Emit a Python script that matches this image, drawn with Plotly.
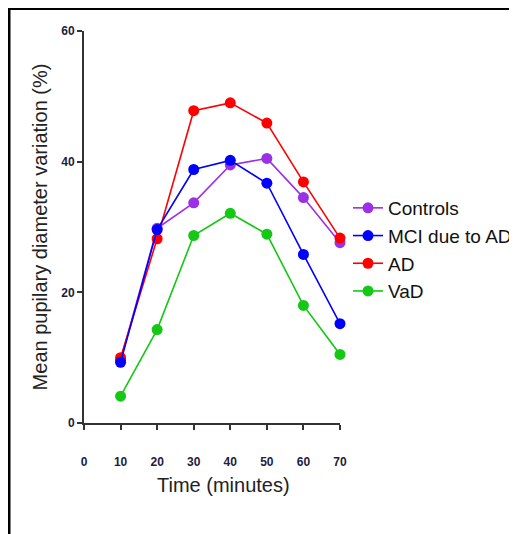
import plotly.graph_objects as go

time_min = [10, 20, 30, 40, 50, 60, 70]
controls = [9.6, 29.8, 33.7, 39.5, 40.5, 34.5, 27.6]
mci_due_to_ad = [9.3, 29.6, 38.8, 40.2, 36.7, 25.8, 15.2]
ad = [10.0, 28.2, 47.8, 49.0, 45.9, 36.9, 28.3]
vad = [4.1, 14.3, 28.7, 32.1, 28.9, 18.0, 10.5]

x_ticks = [0, 10, 20, 30, 40, 50, 60, 70]
y_ticks = [0, 20, 40, 60]

# page body has an 8px margin, so the figure sits at (8, 8)
W, H = 509, 526
ML, MR, MT, MB = 76, 177, 23, 111

series = [
    ("Controls", controls, "#9b30e6", 1),
    ("AD", ad, "#ff0000", 3),
    ("MCI due to AD", mci_due_to_ad, "#0000ff", 2),
    ("VaD", vad, "#14c814", 4),
]

fig = go.Figure()
for name, vals, color, rank in series:
    fig.add_trace(go.Scatter(
        x=time_min, y=vals, name=name, mode="lines+markers",
        line=dict(color=color, width=1.6),
        marker=dict(color=color, size=11, symbol="circle"),
        cliponaxis=False, legendrank=rank,
    ))

tick_font = dict(family="Liberation Sans, Arial, sans-serif", size=12, color="#1c1c40", weight="bold")

def px_x(p):
    return (p - ML) / (W - ML - MR)

def px_y(p):
    return (H - MB - p) / (H - MT - MB)

fig.update_layout(
    width=W, height=H,
    margin=dict(l=ML, r=MR, t=MT, b=MB, autoexpand=False),
    paper_bgcolor="white", plot_bgcolor="white",
    font=dict(family="Liberation Sans, Arial, sans-serif", color="#222222"),
    showlegend=True,
    legend=dict(
        x=px_x(340), y=px_y(181), xanchor="left", yanchor="top",
        font=dict(size=19, color="#111111"),
        bgcolor="rgba(0,0,0,0)", borderwidth=0,
        itemwidth=30, tracegroupgap=0,
    ),
    xaxis=dict(
        range=[0, 70], tickvals=x_ticks, ticktext=[str(v) for v in x_ticks],
        showgrid=False, zeroline=False, showline=True, linecolor="#333333", linewidth=2,
        ticks="outside", ticklen=5, tickwidth=1.5, tickcolor="#333333",
        tickfont=tick_font, ticklabelstandoff=22,
    ),
    yaxis=dict(
        range=[0, 60], tickvals=y_ticks,
        showgrid=False, zeroline=False, showline=True, linecolor="#333333", linewidth=2,
        ticks="outside", ticklen=5, tickwidth=1.5, tickcolor="#333333",
        tickfont=tick_font,
        title=dict(text="Mean pupilary diameter variation (%)", font=dict(size=20, color="#222222"), standoff=8),
    ),
)

fig.add_annotation(
    text="Time (minutes)", xref="paper", yref="paper",
    x=px_x(215), y=px_y(477), xanchor="center", yanchor="middle",
    showarrow=False, font=dict(size=20, color="#222222"),
)

# decorative frame (top and left edges of the figure)
fig.add_shape(type="line", xref="paper", yref="paper",
              x0=px_x(0), x1=px_x(W + 5), y0=px_y(0.5), y1=px_y(0.5),
              line=dict(color="black", width=3))
fig.add_shape(type="line", xref="paper", yref="paper",
              x0=px_x(1), x1=px_x(1), y0=px_y(-1), y1=px_y(H + 5),
              line=dict(color="black", width=3))

fig.write_html("out.html")
